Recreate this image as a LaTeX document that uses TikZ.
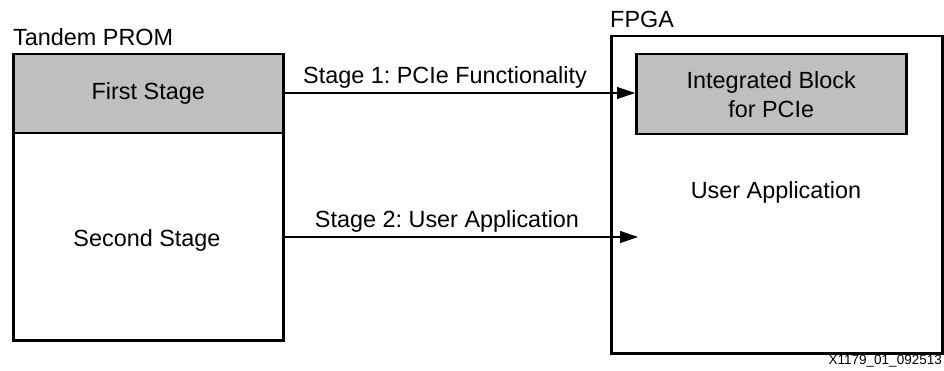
\documentclass[tikz,border=0pt]{standalone}
\usepackage{fontspec}
\setmainfont{Liberation Sans}
\usetikzlibrary{arrows.meta}
\begin{document}
\frenchspacing
\begin{tikzpicture}[x=1pt,y=-1pt,
  lbl/.style={font=\fontsize{23.4}{27}\selectfont, inner sep=0pt},
  box/.style={draw=black, line width=2.5pt},
  graybox/.style={box, fill=black!25},
  link/.style={line width=1.2pt, -{Triangle[length=18pt,width=12pt]}}]
\useasboundingbox (0,0) rectangle (944,371);

% Tandem PROM with its two stages
\node[lbl, anchor=base west] (promlbl) at (13,46) {Tandem PROM};
\node[graybox, minimum width=270pt, minimum height=79pt, anchor=north west] (first) at (12,53) {};
\node[box, minimum width=270pt, minimum height=207pt, anchor=north west] (second) at (12,132) {};
\node[lbl] (firsttxt) at (first.center) {First Stage};
\node[lbl] (secondtxt) at (147,240) {Second Stage};

% FPGA with the PCIe block
\node[lbl, anchor=base west] (fpgalbl) at (610,28) {FPGA};
\node[box, minimum width=331pt, minimum height=317pt, anchor=north west] (fpga) at (610,35) {};
\node[graybox, minimum width=270pt, minimum height=80pt, anchor=north west] (pcie) at (635,53) {};
\node[lbl, align=center] (pcietxt) at (pcie.center) {Integrated Block\\[2pt]for PCIe};
\node[lbl] (usertxt) at (776,192) {User Application};

% Loading arrows
\coordinate (a2end) at (638,237);
\draw[link] (first.east |- 0,93) -- (pcie.west |- 0,93);
\draw[link] (second.east |- 0,237) -- (a2end);
\node[lbl, anchor=base] (s1) at (445,84) {Stage 1: PCIe Functionality};
\node[lbl, anchor=base] (s2) at (447,228) {Stage 2: User Application};

% Figure id
\node[font=\fontsize{13.5}{15}\selectfont, inner sep=0pt, anchor=base east] (figid) at (942,364) {X1179\_01\_092513};
\end{tikzpicture}
\end{document}
